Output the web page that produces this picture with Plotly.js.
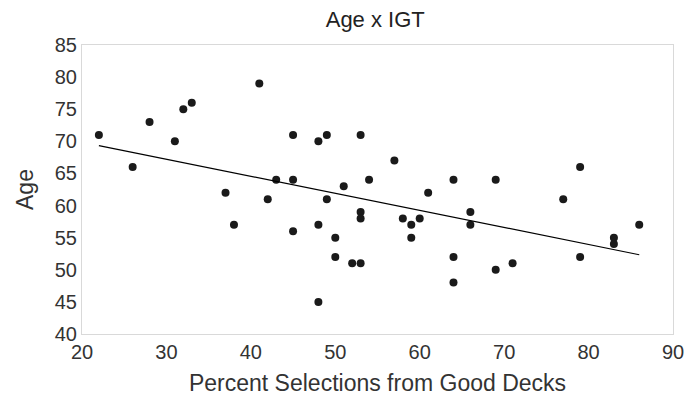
<!DOCTYPE html>
<html>
<head>
<meta charset="utf-8">
<script src="https://cdn.plot.ly/plotly-3.0.1.min.js"></script>
<style>html,body{margin:0;padding:0;background:#fff;}#chart{width:686px;height:400px;}</style>
</head>
<body>
<div id="chart"></div>
<script>
const goodDeckPct = [22,26,28,31,32,33,37,38,41,42,43,45,45,45,48,48,48,49,49,50,50,51,52,53,53,53,53,54,57,58,59,59,60,61,64,64,64,66,66,69,69,71,77,79,79,83,83,86];
const age =         [71,66,73,70,75,76,62,57,79,61,64,71,64,56,70,57,45,71,61,55,52,63,51,71,59,58,51,64,67,58,57,55,58,62,64,52,48,59,57,64,50,51,61,66,52,55,54,57];
const xTicks = [20,30,40,50,60,70,80,90];
const yTicks = [40,45,50,55,60,65,70,75,80,85];

// least-squares trendline computed from the data
const n = goodDeckPct.length;
const mx = goodDeckPct.reduce((a,b)=>a+b,0)/n;
const my = age.reduce((a,b)=>a+b,0)/n;
let sxy=0, sxx=0;
for(let i=0;i<n;i++){sxy+=(goodDeckPct[i]-mx)*(age[i]-my);sxx+=(goodDeckPct[i]-mx)**2;}
const slope=sxy/sxx, icpt=my-slope*mx;
const xMin=Math.min(...goodDeckPct), xMax=Math.max(...goodDeckPct);
const trendX=[xMin,xMax], trendY=trendX.map(x=>icpt+slope*x);

const font = 'Liberation Sans, Arial, sans-serif';
const data = [
  {x: goodDeckPct, y: age, type:'scatter', mode:'markers',
   marker:{size:8, color:'#1a1a1a'}, hoverinfo:'x+y'},
  {x: trendX, y: trendY, type:'scatter', mode:'lines',
   line:{color:'#000', width:1.2}}
];
const layout = {
  width:686, height:400,
  margin:{l:82, r:13, t:45, b:66},
  showlegend:false,
  paper_bgcolor:'#fff', plot_bgcolor:'#fff',
  font:{family:font, color:'#333'},
  title:{text:'Age x IGT', x:0.547, xanchor:'center', y:0.952, yanchor:'middle', font:{size:22, color:'#222'}},
  xaxis:{range:[20,90], tickvals:xTicks, ticktext:xTicks.map(String), showgrid:false, zeroline:false,
    showline:true, mirror:true, linecolor:'#d9d9d9', linewidth:1, ticks:'',
    tickfont:{size:20, color:'#333'},
    title:{text:'Percent Selections from Good Decks', font:{size:23, color:'#333'}, standoff:12}},
  yaxis:{range:[40,85], tickvals:yTicks, ticktext:yTicks.map(String), showgrid:false, zeroline:false,
    showline:true, mirror:true, linecolor:'#d9d9d9', linewidth:1, ticks:'',
    tickfont:{size:20, color:'#333'},
    title:{text:'Age', font:{size:23, color:'#333'}, standoff:14}}
};
Plotly.newPlot('chart', data, layout, {staticPlot:true});
</script>
</body>
</html>
